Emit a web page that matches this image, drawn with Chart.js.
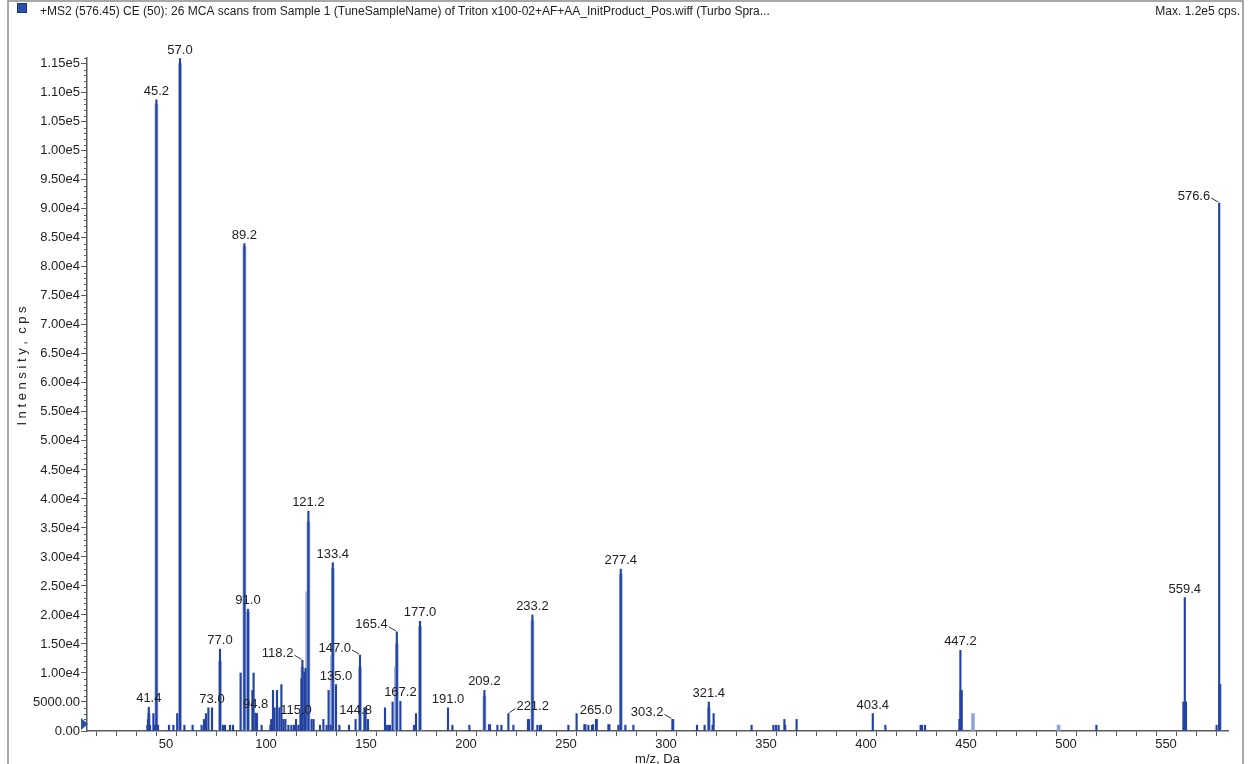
<!DOCTYPE html>
<html>
<head>
<meta charset="utf-8">
<script src="https://cdn.jsdelivr.net/npm/chart.js@4.4.1/dist/chart.umd.min.js"></script>
<style>
html,body{margin:0;padding:0;background:#fff;}
#wrap{width:1252px;height:764px;position:relative;}
</style>
</head>
<body>
<div id="wrap"><canvas id="c" width="1252" height="764"></canvas></div>
<script>
// ---------- DATA ----------
const headerText = '+MS2 (576.45) CE (50): 26 MCA scans from Sample 1 (TuneSampleName) of Triton x100-02+AF+AA_InitProduct_Pos.wiff (Turbo Spra...';
const maxText = 'Max. 1.2e5 cps.';
const xAxisTitle = 'm/z, Da';
const yAxisTitle = 'I n t e n s i t y ,  c p s';

// centroid sticks (m/z)
const mzValues = [
  40.7, 41.0, 41.4, 42.0, 43.7, 44.3, 45.2, 46.0, 51.5, 53.7, 55.6, 57.0, 59.2, 63.3, 67.8, 69.0, 70.0, 71.2, 73.0,
  77.0, 78.5, 79.5, 82.0, 83.5, 87.3, 89.2, 91.0, 93.2, 93.8, 94.8, 95.5, 97.8, 102.2, 102.6, 103.5, 104.3, 105.5,
  106.7, 107.7, 108.7, 109.7, 111.2, 112.7, 114.0, 115.0, 116.2, 117.2, 117.7, 118.2, 119.2, 119.8, 121.2, 122.8,
  123.8, 127.0, 128.7, 130.3, 131.3, 132.3, 133.4, 135.0, 136.7, 141.5, 144.8, 147.0, 149.2, 149.8, 151.0, 159.5,
  160.3, 161.2, 162.0, 163.3, 165.4, 167.2, 174.0, 175.0, 177.0, 191.0, 193.2, 201.7, 209.2, 211.5, 212.0, 215.7,
  217.7, 221.2, 223.7, 231.0, 231.5, 233.2, 235.7, 237.0, 237.5, 251.2, 255.3, 259.2, 259.7, 261.2, 263.0, 263.5,
  265.0, 265.4, 271.2, 271.7, 276.2, 277.4, 279.7, 283.7, 303.2, 303.6, 315.5, 319.3, 321.4, 323.3, 323.8, 342.8,
  353.7, 355.0, 356.3, 359.2, 359.6, 365.3, 403.4, 409.7, 427.3, 428.0, 429.5, 446.7, 447.2, 447.8, 515.2, 558.7,
  559.4, 560.0, 575.3, 576.6, 576.9
];
// centroid intensities (cps)
const intensities = [
  1000, 2000, 4100, 1000, 3000, 1000, 108800, 1000, 1000, 1000, 3000, 115900, 1000, 1000, 1000, 2000, 3000, 4000, 4000,
  14100, 1000, 1000, 1000, 1000, 10000, 84000, 21000, 7000, 10000, 3100, 3000, 1000, 1000, 2000, 7000, 4000, 7000,
  4000, 8000, 2000, 2000, 1000, 1000, 1000, 2000, 1000, 3000, 9000, 12200, 10200, 10800, 37900, 2000,
  2000, 1000, 2000, 1000, 7000, 1000, 29000, 8000, 1000, 1000, 2000, 13100, 4000, 4000, 2000, 4000,
  1000, 1000, 1000, 5000, 17100, 5100, 1000, 3000, 18900, 4000, 1000, 1000, 7000, 1100, 1100, 1000,
  1000, 3000, 1000, 2000, 2000, 20000, 1000, 1000, 1000, 1000, 3000, 1100, 1100, 1000, 1000, 1100,
  2000, 2000, 1100, 1100, 1000, 27900, 1000, 1000, 2000, 2000, 1000, 1000, 5000, 1000, 3000, 1000,
  1000, 1000, 1000, 2000, 1000, 2000, 3000, 1000, 1000, 1000, 1000, 2000, 13900, 7000, 1000, 5000,
  23000, 5000, 1000, 91000, 8000
];

// lighter profile sticks (m/z and cps)
const profileMz = [
  41.4, 45.2, 57.0, 77.0, 89.2, 91.0, 118.2, 120.6, 121.2, 133.0, 133.4, 147.0, 165.0, 165.4, 177.0,
  209.2, 233.2, 277.4, 321.4, 447.5, 453.5, 496.3, 559.6, 576.9
];
const profileIntensity = [
  3000, 108000, 115000, 12000, 83500, 20500, 11000, 24000, 36000, 13000, 28000, 11000, 11000, 15000, 18000,
  6000, 19000, 27000, 4000, 7000, 3000, 1000, 5000, 8000
];

// axis tick steps
const xTickStep = 10;      // tick marks
const xLabelStep = 50;     // labelled ticks
const yTickStep = 5000;    // labelled ticks
const yMinorStep = 1000;   // minor ticks

// annotated peaks
const labeledPeaks = [41.4, 45.2, 57.0, 73.0, 77.0, 89.2, 91.0, 94.8, 115.0, 118.2, 121.2, 133.4, 135.0, 144.8,
  147.0, 165.4, 167.2, 177.0, 191.0, 209.2, 221.2, 233.2, 265.0, 277.4, 303.2, 321.4, 403.4, 447.2, 559.4, 576.6];
const leaderLeftPeaks = [576.6, 165.4, 147.0, 118.2, 303.2];
const leaderRightPeaks = [221.2];

// ---------- STYLE ----------
const FONT = "'Liberation Sans', Arial, sans-serif";
const DARK = '#2443a0';
const LIGHT = '#8ea6da';
const AXIS = '#5a5a5a';
const TEXT = '#222222';

function fmtY(v) {
  if (Math.abs(v) < 1e-9) return '0.00';
  if (v < 10000) return v.toFixed(2);
  return v.toExponential(2).replace('e+', 'e');
}
function isMultiple(v, step) {
  return Math.abs(v / step - Math.round(v / step)) < 1e-6;
}
function stepTicks(min, max, step) {
  const out = [];
  for (let k = Math.ceil(min / step - 1e-9); k * step <= max + 1e-9; k++) out.push({ value: k * step });
  return out;
}

const decorPlugin = {
  id: 'decor',
  beforeDraw(chart) {
    const ctx = chart.ctx;
    ctx.save();
    ctx.fillStyle = '#fff';
    ctx.fillRect(0, 0, chart.width, chart.height);
    ctx.restore();
  },
  afterDraw(chart) {
    const ctx = chart.ctx;
    const xs = chart.scales.x, ys = chart.scales.y;
    ctx.save();
    // frame
    ctx.strokeStyle = '#8c8c8c';
    ctx.lineWidth = 1.5;
    ctx.beginPath();
    ctx.moveTo(8, 764); ctx.lineTo(8, 1); ctx.lineTo(1243, 1); ctx.lineTo(1243, 764);
    ctx.stroke();
    // header icon
    ctx.fillStyle = '#2b50a8';
    ctx.fillRect(17, 3, 10, 10);
    ctx.strokeStyle = '#1b3580';
    ctx.lineWidth = 1;
    ctx.strokeRect(17.5, 3.5, 9, 9);
    // header text
    ctx.fillStyle = TEXT;
    ctx.font = '12px ' + FONT;
    ctx.textBaseline = 'middle';
    ctx.textAlign = 'left';
    ctx.fillText(headerText, 40, 12);
    ctx.textAlign = 'right';
    ctx.fillText(maxText, 1240, 12);
    // y title
    ctx.save();
    ctx.translate(22, 366);
    ctx.rotate(-Math.PI / 2);
    ctx.textAlign = 'center';
    ctx.textBaseline = 'middle';
    ctx.font = '13px ' + FONT;
    ctx.fillText(yAxisTitle, 0, 0);
    ctx.restore();
    // y minor ticks
    ctx.strokeStyle = AXIS;
    ctx.lineWidth = 1;
    const left = xs.left;
    stepTicks(ys.min, ys.max, yMinorStep).forEach(t => {
      if (isMultiple(t.value, yTickStep)) return;
      const y = Math.round(ys.getPixelForValue(t.value)) + 0.5;
      ctx.beginPath();
      ctx.moveTo(left - 3, y);
      ctx.lineTo(left, y);
      ctx.stroke();
    });
    // threshold marker
    const my = ys.getPixelForValue(1200);
    ctx.fillStyle = '#2b50a8';
    ctx.beginPath();
    ctx.moveTo(left - 6, my - 6);
    ctx.lineTo(left + 1, my);
    ctx.lineTo(left - 6, my + 6);
    ctx.closePath();
    ctx.fill();
    ctx.restore();
  }
};

const labelPlugin = {
  id: 'peakLabels',
  afterDatasetsDraw(chart) {
    const ctx = chart.ctx;
    const meta = chart.getDatasetMeta(1);
    ctx.save();
    ctx.font = '13px ' + FONT;
    ctx.fillStyle = TEXT;
    ctx.strokeStyle = '#333';
    ctx.lineWidth = 1;
    labeledPeaks.forEach(mz => {
      const i = mzValues.findIndex(v => Math.abs(v - mz) < 1e-6);
      if (i < 0) return;
      const el = meta.data[i];
      const px = el.x, py = el.y;
      const txt = mz.toFixed(1);
      if (leaderLeftPeaks.includes(mz)) {
        ctx.textAlign = 'right';
        ctx.textBaseline = 'middle';
        ctx.fillText(txt, px - 9, py - 7);
        ctx.beginPath();
        ctx.moveTo(px - 8, py - 5);
        ctx.lineTo(px - 1, py - 1);
        ctx.stroke();
      } else if (leaderRightPeaks.includes(mz)) {
        ctx.textAlign = 'left';
        ctx.textBaseline = 'middle';
        ctx.fillText(txt, px + 8, py - 7);
        ctx.beginPath();
        ctx.moveTo(px + 7, py - 5);
        ctx.lineTo(px + 1, py - 1);
        ctx.stroke();
      } else {
        ctx.textAlign = 'center';
        ctx.textBaseline = 'bottom';
        ctx.fillText(txt, px, py - 2);
      }
    });
    ctx.restore();
  }
};

new Chart(document.getElementById('c'), {
  type: 'bar',
  data: {
    datasets: [
      {
        label: 'profile',
        data: profileMz.map((m, i) => ({ x: m, y: profileIntensity[i] })),
        backgroundColor: LIGHT,
        barThickness: 3,
        grouped: false,
        order: 2
      },
      {
        label: 'centroid',
        data: mzValues.map((m, i) => ({ x: m, y: intensities[i] })),
        backgroundColor: DARK,
        barThickness: 1.5,
        grouped: false,
        order: 1
      }
    ]
  },
  options: {
    responsive: false,
    animation: false,
    devicePixelRatio: 1,
    layout: { padding: { top: 58, right: 24, left: 0, bottom: 0 } },
    plugins: { legend: { display: false }, tooltip: { enabled: false }, title: { display: false } },
    scales: {
      x: {
        type: 'linear',
        min: 10.5,
        max: 581,
        offset: false,
        afterBuildTicks: s => { s.ticks = stepTicks(s.min, s.max, xTickStep); },
        afterFit: s => { s.height = 33; },
        grid: { drawOnChartArea: false, tickLength: 5, tickColor: AXIS, color: AXIS },
        border: { color: AXIS, width: 1.5 },
        ticks: {
          autoSkip: false, maxRotation: 0, minRotation: 0, padding: 1, color: TEXT,
          font: { family: FONT, size: 13 },
          callback: v => (isMultiple(v, xLabelStep) ? String(Math.round(v)) : '')
        },
        title: { display: true, text: xAxisTitle, color: TEXT, font: { family: FONT, size: 13 }, padding: { top: 0, bottom: -3 } }
      },
      y: {
        min: 0,
        max: 116000,
        afterBuildTicks: s => { s.ticks = stepTicks(s.min, s.max, yTickStep); },
        afterFit: s => { s.width = 87; },
        grid: { drawOnChartArea: false, tickLength: 6, tickColor: AXIS, color: AXIS },
        border: { color: AXIS, width: 1.5 },
        ticks: {
          autoSkip: false, padding: 1, color: TEXT,
          font: { family: FONT, size: 13 },
          callback: v => fmtY(v)
        }
      }
    }
  },
  plugins: [decorPlugin, labelPlugin]
});
</script>
</body>
</html>
